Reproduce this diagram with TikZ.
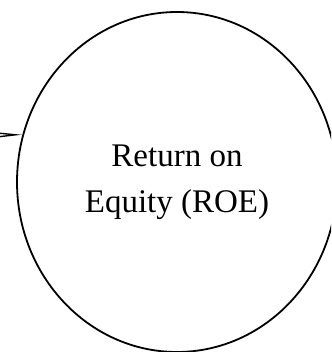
\documentclass[tikz,border=0pt]{standalone}
\usepackage{fontspec}
\setmainfont{Liberation Serif}
\usetikzlibrary{shapes.geometric,arrows.meta}
\tikzset{
  state/.style={ellipse, draw=black, line width=1.8pt, minimum width=320pt, minimum height=340pt, inner sep=0pt, align=center, font=\fontsize{33}{46}\selectfont},
  edge/.style={draw=black, line width=1.6pt, -{Triangle[open, length=30pt, width=6pt, line width=1.4pt]}}
}
\begin{document}
\begin{tikzpicture}[x=1pt, y=-1pt]
\useasboundingbox (0,0) rectangle (331,352);
\clip (0,0) rectangle (331,352);
\node[state] (roe) at (177,182) {Return on\\Equity (ROE)};
\coordinate (src) at (-60,135.5);
\draw[edge] (src) -- (roe.163.5);
\end{tikzpicture}
\end{document}
